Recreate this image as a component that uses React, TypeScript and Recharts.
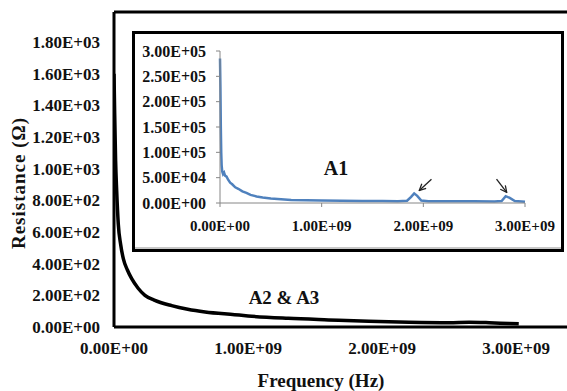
import { LineChart, Line, XAxis, YAxis, ReferenceLine } from "recharts";

// main chart: A2 & A3 (frequency in GHz, resistance in ohm)
const mainFreqGHz = [
  0, 0.005, 0.012, 0.02, 0.032, 0.05, 0.07, 0.1, 0.132, 0.18, 0.231, 0.3, 0.43,
  0.55, 0.68, 0.9, 1.0, 1.3, 1.6, 1.9, 2.2, 2.5, 2.65, 2.8, 2.95, 3.02,
];
const mainRes = [
  1600, 1350, 1050, 860, 650, 520, 430, 360, 305, 245, 200, 170, 135, 112, 95,
  78, 70, 55, 45, 36, 30, 27, 30, 27, 22, 20,
];

// inset: A1
const insetFreqGHz = [
  0, 0.004, 0.008, 0.012, 0.016, 0.022, 0.03, 0.04, 0.05, 0.065, 0.08, 0.1,
  0.12, 0.15, 0.18, 0.22, 0.26, 0.3, 0.36, 0.42, 0.5, 0.6, 0.7, 0.85, 1.0, 1.2,
  1.4, 1.6, 1.75, 1.84, 1.88, 1.91, 1.94, 1.98, 2.05, 2.3, 2.5, 2.7, 2.77, 2.81,
  2.85, 2.9, 3.0,
];
const insetRes = [
  285000, 230000, 150000, 100000, 75000, 62000, 57000, 60000, 54000, 52000,
  46000, 40000, 37000, 31000, 28000, 23000, 20000, 16000, 13000, 11000, 9000,
  7500, 6000, 5200, 4800, 4300, 4000, 3800, 3700, 4500, 12000, 19000, 14000,
  5000, 3600, 3400, 3300, 3200, 4000, 13500, 10000, 4000, 2500,
];

const mainXTicks = [0, 1e9, 2e9, 3e9];
const mainYTicks = [0, 200, 400, 600, 800, 1000, 1200, 1400, 1600, 1800];
const insetXTicks = [0, 1e9, 2e9, 3e9];
const insetYTicks = [0, 50000, 100000, 150000, 200000, 250000, 300000];

const mainData = mainFreqGHz.map((g, i) => ({ f: g * 1e9, r: mainRes[i] }));
const insetData = insetFreqGHz.map((g, i) => ({ f: g * 1e9, r: insetRes[i] }));

const SERIF = "Liberation Serif, Tinos, Times New Roman, Times, DejaVu Serif, serif";

function sci(v: number) {
  if (v === 0) return "0.00E+00";
  const e = Math.floor(Math.log10(Math.abs(v)) + 1e-9);
  const m = v / Math.pow(10, e);
  return `${m.toFixed(2)}E+${String(e).padStart(2, "0")}`;
}

const textStyle = (size: number) => ({
  position: "absolute" as const,
  fontFamily: SERIF,
  fontWeight: 700,
  fontSize: size,
  lineHeight: 1,
  color: "#111",
  whiteSpace: "nowrap" as const,
  transform: "translate(-50%, -50%)",
});

export default function App() {
  return (
    <div style={{ position: "relative", width: 567, height: 391, background: "#fff" }}>
      <style>{`body{margin:0;overflow:hidden;background:#fff}`}</style>
      <svg width={0} height={0} style={{ position: "absolute" }}>
        <defs>
          <marker
            id="arrowHead"
            viewBox="0 0 10 10"
            refX={9}
            refY={5}
            markerWidth={8}
            markerHeight={8}
            markerUnits="userSpaceOnUse"
            orient="auto"
          >
            <path d="M1,1 L9,5 L1,9" fill="none" stroke="#222" strokeWidth={1.6} />
          </marker>
        </defs>
      </svg>

      <LineChart
        width={567}
        height={391}
        data={mainData}
        margin={{ top: 12, right: 0, bottom: 34, left: 14 }}
        style={{ fontFamily: SERIF }}
      >
        <XAxis
          type="number"
          dataKey="f"
          domain={[0, 3.38e9]}
          ticks={mainXTicks}
          interval={0}
          allowDataOverflow
          tickFormatter={sci}
          axisLine={{ stroke: "#000", strokeWidth: 3 }}
          tickLine={false}
          tickMargin={9}
          height={30}
          tick={{ fontFamily: SERIF, fontWeight: 700, fontSize: 17, fill: "#111" }}
        />
        <YAxis
          type="number"
          domain={[0, 1990]}
          ticks={mainYTicks}
          interval={0}
          allowDataOverflow
          tickFormatter={sci}
          axisLine={{ stroke: "#000", strokeWidth: 3 }}
          tickLine={false}
          tickMargin={8}
          width={100}
          tick={{ fontFamily: SERIF, fontWeight: 700, fontSize: 17, fill: "#111" }}
        />
        {/* top edge of the plot frame */}
        <ReferenceLine y={1990} stroke="#000" strokeWidth={3} />
        <Line
          type="monotone"
          dataKey="r"
          stroke="#000"
          strokeWidth={3.5}
          dot={false}
          isAnimationActive={false}
        />
      </LineChart>

      <div
        style={{
          position: "absolute",
          left: 132,
          top: 31,
          width: 432,
          height: 221,
          border: "3px solid #000",
          boxSizing: "border-box",
          background: "#fff",
          boxShadow: "inset 0 -2px 0 #c8c8c8",
        }}
      >
        <LineChart
          width={426}
          height={215}
          data={insetData}
          margin={{ top: 17, right: 36, bottom: 16, left: 5 }}
        >
          <XAxis
            type="number"
            dataKey="f"
            domain={[0, 3e9]}
            ticks={insetXTicks}
            interval={0}
            tickFormatter={sci}
            axisLine={{ stroke: "#868686" }}
            tickLine={{ stroke: "#868686" }}
            tickSize={4}
            tickMargin={13}
            height={30}
            tick={{ fontFamily: SERIF, fontWeight: 700, fontSize: 15, fill: "#111" }}
          />
          <YAxis
            type="number"
            domain={[0, 300000]}
            ticks={insetYTicks}
            interval={0}
            allowDataOverflow
            tickFormatter={sci}
            axisLine={{ stroke: "#868686" }}
            tickLine={{ stroke: "#868686" }}
            tickSize={4}
            tickMargin={10}
            width={80}
            tick={{ fontFamily: SERIF, fontWeight: 700, fontSize: 16, fill: "#111" }}
          />
          <Line
            type="linear"
            dataKey="r"
            stroke="#4f81bd"
            strokeWidth={2.5}
            dot={false}
            isAnimationActive={false}
          />
          <ReferenceLine
            segment={[
              { x: 2.08e9, y: 47000 },
              { x: 1.96e9, y: 24700 },
            ]}
            stroke="#222"
            strokeWidth={1.3}
            markerEnd="url(#arrowHead)"
          />
          <ReferenceLine
            segment={[
              { x: 2.72e9, y: 47000 },
              { x: 2.82e9, y: 20900 },
            ]}
            stroke="#222"
            strokeWidth={1.3}
            markerEnd="url(#arrowHead)"
          />
        </LineChart>
      </div>

      <div style={{ ...textStyle(20), left: 336, top: 168 }}>A1</div>
      <div style={{ ...textStyle(19), left: 284, top: 297 }}>A2 &amp; A3</div>
      <div style={{ ...textStyle(19), left: 321, top: 380 }}>Frequency (Hz)</div>
      <div
        style={{
          ...textStyle(19),
          left: 18,
          top: 183,
          letterSpacing: 1,
          transform: "translate(-50%, -50%) rotate(-90deg)",
        }}
      >
        Resistance (Ω)
      </div>
    </div>
  );
}
